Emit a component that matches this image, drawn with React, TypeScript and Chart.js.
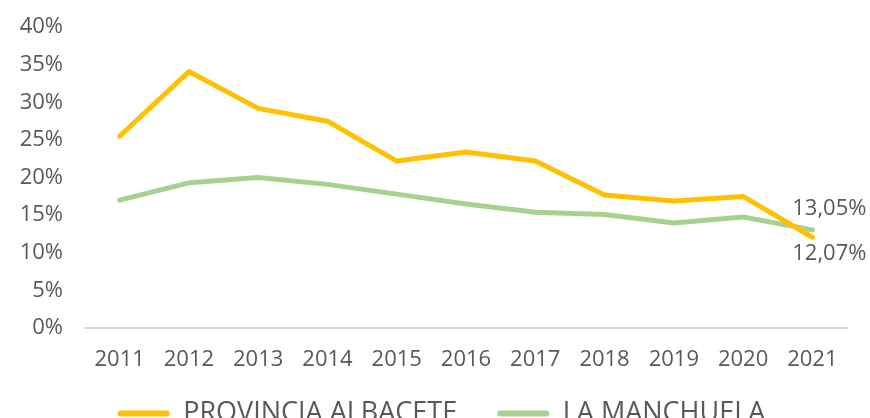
import React, { useEffect, useRef } from "react";
import { Chart, registerables } from "chart.js";

Chart.register(...registerables);

const years = ["2011", "2012", "2013", "2014", "2015", "2016", "2017", "2018", "2019", "2020", "2021"];
const provinciaAlbacete = [25.5, 34.1, 29.2, 27.5, 22.2, 23.4, 22.2, 17.7, 16.9, 17.5, 12.07];
const laManchuela = [17.0, 19.3, 20.0, 19.1, 17.8, 16.5, 15.4, 15.1, 13.95, 14.75, 13.05];
const yTicks = [0, 5, 10, 15, 20, 25, 30, 35, 40];

const FONT = "'Open Sans', sans-serif";
const TEXT = "#595959";
const H = 449;

const endLabels = {
  id: "endLabels",
  afterDatasetsDraw(chart: any) {
    const ctx = chart.ctx;
    ctx.save();
    ctx.font = `22px ${FONT}`;
    ctx.fillStyle = TEXT;
    ctx.textAlign = "center";
    ctx.textBaseline = "middle";
    chart.data.datasets.forEach((ds: any, i: number) => {
      const meta = chart.getDatasetMeta(i);
      const last = meta.data[meta.data.length - 1];
      const v = ds.data[ds.data.length - 1];
      const txt = v.toFixed(2).replace(".", ",") + "%";
      const dy = ds.labelPos === "above" ? -21 : 17;
      ctx.fillText(txt, last.x + 17, last.y + dy);
    });
    ctx.restore();
  },
};

const legendShift = {
  id: "legendShift",
  afterLayout(chart: any) {
    const lg = chart.legend;
    if (!lg) return;
    lg.left += 18;
    lg.right += 18;
    lg.top -= 12;
    lg.bottom -= 12;
  },
};

export default function App() {
  const ref = useRef<HTMLCanvasElement>(null);
  useEffect(() => {
    if (!ref.current) return;
    const chart = new Chart(ref.current, {
      type: "line",
      data: {
        labels: years,
        datasets: [
          {
            label: "PROVINCIA ALBACETE",
            data: provinciaAlbacete,
            borderColor: "#FFC000",
            backgroundColor: "#FFC000",
            borderWidth: 5,
            pointRadius: 0,
            tension: 0,
            borderCapStyle: "round",
            borderJoinStyle: "round",
            labelPos: "below",
          } as any,
          {
            label: "LA MANCHUELA",
            data: laManchuela,
            borderColor: "#A9D18E",
            backgroundColor: "#A9D18E",
            borderWidth: 5,
            pointRadius: 0,
            tension: 0,
            borderCapStyle: "round",
            borderJoinStyle: "round",
            labelPos: "above",
          } as any,
        ],
      },
      options: {
        animation: false,
        responsive: false,
        maintainAspectRatio: false,
        layout: { padding: { top: 14, right: 23, left: 0, bottom: 0 } },
        plugins: {
          legend: {
            position: "bottom",
            labels: {
              font: { family: FONT, size: 27 },
              color: TEXT,
              boxWidth: 52,
              boxHeight: 6,
              padding: 40,
              useBorderRadius: true,
              borderRadius: 3,
              generateLabels: (chart: any) =>
                chart.data.datasets.map((ds: any, i: number) => ({
                  text: ds.label,
                  fillStyle: ds.borderColor,
                  strokeStyle: ds.borderColor,
                  lineWidth: 0,
                  fontColor: TEXT,
                  datasetIndex: i,
                  borderRadius: 3,
                })),
            },
          } as any,
          tooltip: { enabled: false },
        },
        scales: {
          x: {
            offset: true,
            grid: { display: false },
            border: { color: "#D9D9D9", width: 2 },
            ticks: { font: { family: FONT, size: 22 }, color: TEXT, padding: 11, maxRotation: 0 },
            afterFit: (s: any) => {
              s.height = 44;
            },
          },
          y: {
            min: 0,
            max: 40,
            afterBuildTicks: (s: any) => {
              s.ticks = yTicks.map((v) => ({ value: v }));
            },
            grid: { display: false },
            border: { display: false },
            ticks: {
              font: { family: FONT, size: 22 },
              color: TEXT,
              padding: 14,
              callback: (v: any) => v + "%",
            },
            afterFit: (s: any) => {
              s.width = 85;
            },
          },
        },
      },
      plugins: [endLabels, legendShift],
    });
    return () => chart.destroy();
  }, []);
  return (
    <div style={{ position: "fixed", left: 0, top: 0, width: 870, height: H }}>
      <canvas ref={ref} width={870} height={H} style={{ width: 870, height: H }} />
    </div>
  );
}
